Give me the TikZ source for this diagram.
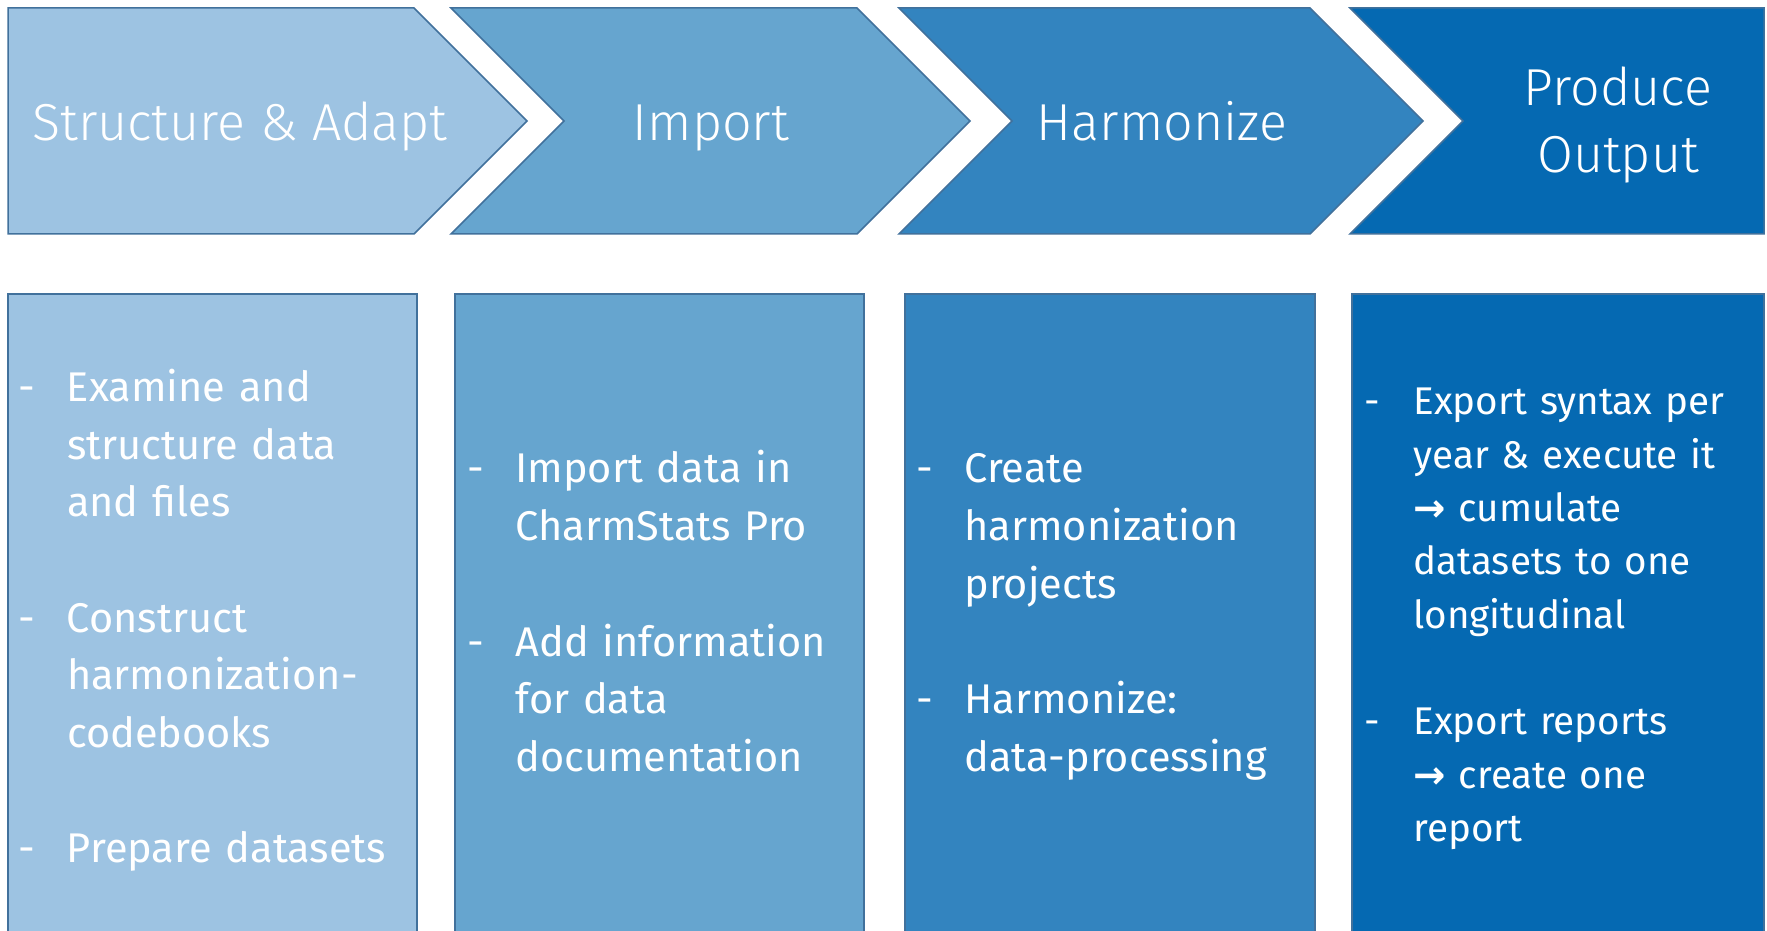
\documentclass[tikz,border=0pt]{standalone}
\usepackage{fontspec}
\setmainfont{Fira Sans}
\newfontfamily\headfont{Fira Sans}[UprightFont=* Light]
\newfontfamily\bodyfont{Fira Sans}
\newfontfamily\arrowfont{DejaVu Sans}
\definecolor{cA}{HTML}{9DC3E2}
\definecolor{cB}{HTML}{66A5CF}
\definecolor{cC}{HTML}{3384BF}
\definecolor{cD}{HTML}{0569B2}
\definecolor{edgeblue}{HTML}{41719C}
\newlength\hind
\newcommand\itm[1]{\par\noindent\hangindent=\hind\hangafter=1\hbox to\hind{\strut-\hfil}#1\strut\par}
\newcommand\gapline{\vspace{\baselineskip}}
\begin{document}
\begin{tikzpicture}[x=0.4pt,y=-0.4pt,
  bord/.style={draw=edgeblue, line width=0.6pt, line join=miter},
  head/.style={text=white, font=\headfont\fontsize{20.8}{27}\selectfont, inner sep=0pt, align=center},
  body/.style={text=white, inner sep=0pt, text width=160pt, align=left, anchor=west,
    font=\bodyfont\fontsize{16.6}{23.08}\selectfont},
  bodysmall/.style={body, font=\bodyfont\fontsize{15.45}{21.32}\selectfont},
]
\useasboundingbox (0,0) rectangle (1767,931);
\fill[white] (0,0) rectangle (1767,931);
\begin{scope}
\clip (0,0) rectangle (1767,931);
% chevrons
\draw[bord, fill=cA] (8,8) -- (414,8) -- (527,121) -- (414,234) -- (8,234) -- cycle;
\draw[bord, fill=cB] (451,8) -- (857,8) -- (970,121) -- (857,234) -- (451,234) -- (564,121) -- cycle;
\draw[bord, fill=cC] (899,8) -- (1310,8) -- (1423,121) -- (1310,234) -- (899,234) -- (1012,121) -- cycle;
\draw[bord, fill=cD] (1350,8) -- (1764,8) -- (1764,234) -- (1350,234) -- (1463,121) -- cycle;
% boxes
\draw[bord, fill=cA] (8,294) rectangle (417,960);
\draw[bord, fill=cB] (455,294) rectangle (864,960);
\draw[bord, fill=cC] (905,294) rectangle (1315,960);
\draw[bord, fill=cD] (1352,294) rectangle (1764,960);
\end{scope}
% headings
\node[head, anchor=base] (h1) at (240,141) {Structure \& Adapt};
\node[head, anchor=base] (h2) at (711,141) {Import};
\node[head, anchor=base] (h3) at (1162,141) {Harmonize};
\node[head, anchor=center] (h4) at (1618,125) {Produce\\Output};
% bodies
\node[body] (b1) at (18,612) {\setlength\hind{19.4pt}%
\itm{Examine and\newline structure data\newline and files}\gapline
\itm{Construct\newline harmonization-\newline codebooks}\gapline
\itm{Prepare datasets}};
\node[body] (b2) at (467,607) {\setlength\hind{19.2pt}%
\itm{Import data in\newline CharmStats Pro}\gapline
\itm{Add information\newline for data\newline documentation}};
\node[body] (b3) at (916,607) {\setlength\hind{19.2pt}%
\itm{Create\newline harmonization\newline projects}\gapline
\itm{Harmonize:\newline data-processing}};
\node[bodysmall] (b4) at (1363.5,609.5) {\setlength\hind{19.8pt}%
\itm{Export syntax per\newline year \& execute it\newline {\arrowfont\bfseries →} cumulate\newline datasets to one\newline longitudinal}\gapline
\itm{Export reports\newline {\arrowfont\bfseries →} create one\newline report}};
\end{tikzpicture}
\end{document}
